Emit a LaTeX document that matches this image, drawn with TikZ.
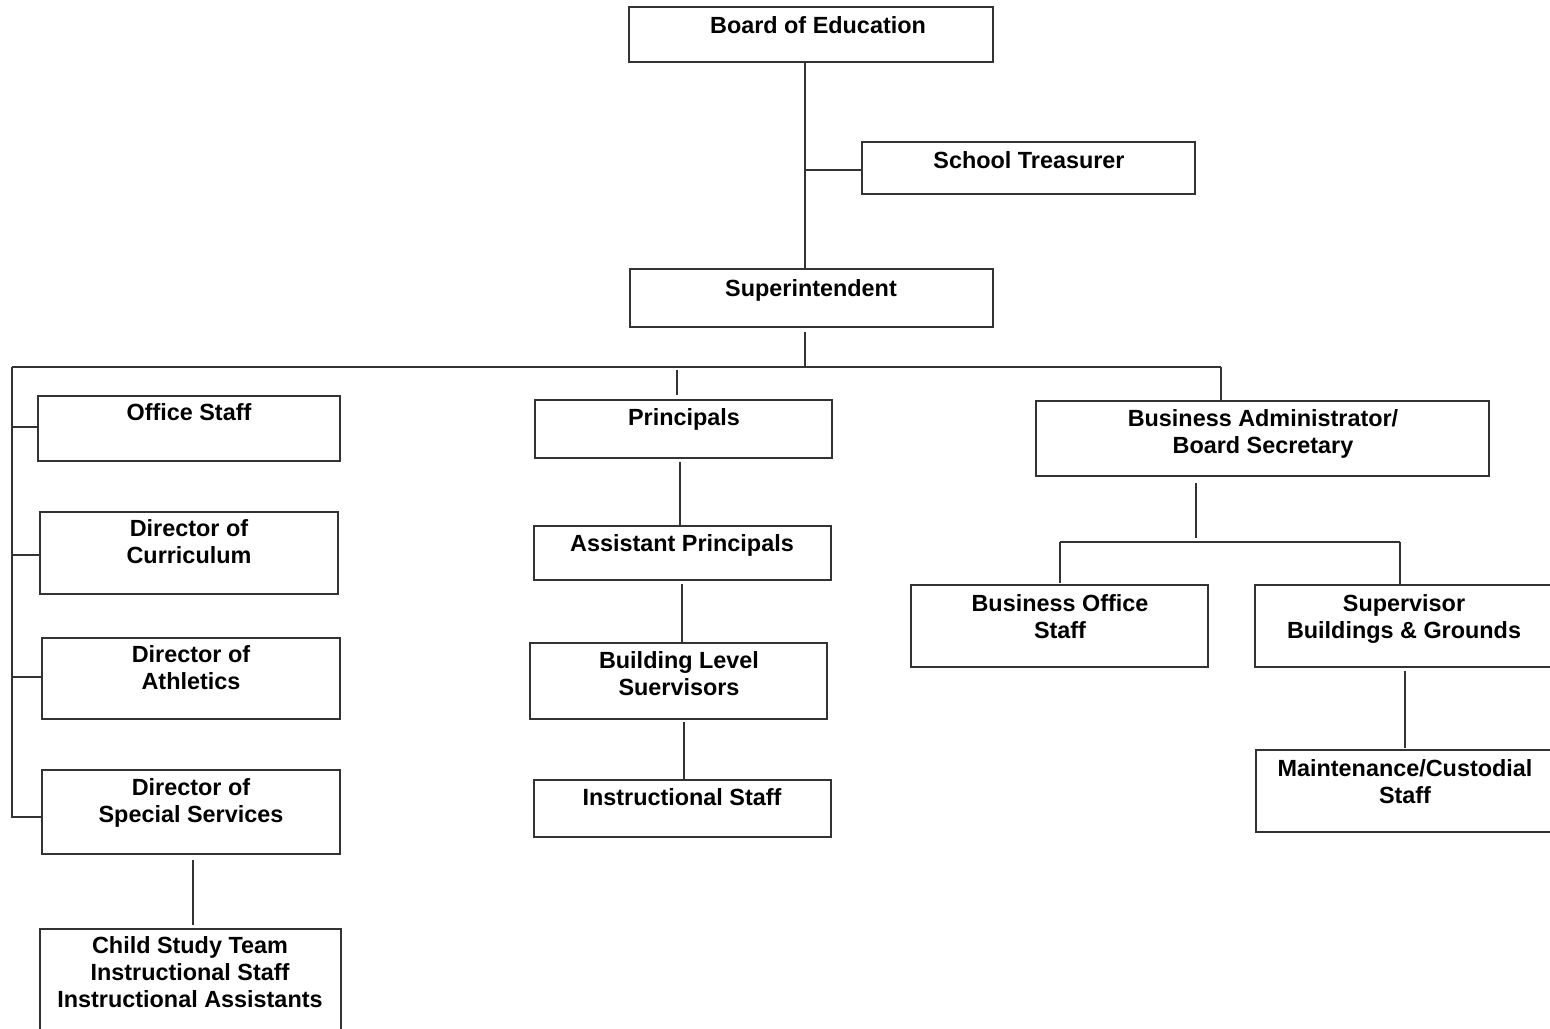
\documentclass[tikz,border=0pt]{standalone}
\usepackage{fontspec}
\setmainfont{Liberation Sans}
\begin{document}
\begin{tikzpicture}[x=1pt,y=-1pt,
  orgbox/.style={draw=black!80,line width=1.3pt,inner sep=0pt,outer sep=0pt,anchor=north west},
  lbl/.style={font=\bfseries\fontsize{23.4}{27}\selectfont,align=center,inner sep=0pt,anchor=north},
  conn/.style={draw=black!80,line width=1.3pt}]
\useasboundingbox (0,0) rectangle (1550,1028);
\clip (0,0) rectangle (1550,1028);
% boxes: #1 name, (x1,y1), width, height
\newcommand{\obox}[5]{\node[orgbox,minimum width=#4pt,minimum height=#5pt] (#1) at (#2,#3) {};}
\newcommand{\otext}[4]{\node[lbl] (#1-t) at (#2,#3-8.5) {#4};}
\obox{board}{629}{7}{364}{55}
\otext{board}{818}{25}{Board of Education}
\obox{treas}{862}{142}{333}{52}
\otext{treas}{1029}{160}{School Treasurer}
\obox{super}{630}{269}{363}{58}
\otext{super}{811}{288}{Superintendent}
\obox{office}{38}{396}{302}{65}
\otext{office}{189}{412}{Office Staff}
\obox{curr}{40}{512}{298}{82}
\otext{curr}{189}{528}{Director of\\Curriculum}
\obox{ath}{42}{638}{298}{81}
\otext{ath}{191}{654}{Director of\\Athletics}
\obox{spec}{42}{770}{298}{84}
\otext{spec}{191}{787}{Director of\\Special Services}
\obox{child}{40}{929}{301}{140}
\otext{child}{190}{945}{Child Study Team\\Instructional Staff\\Instructional Assistants}
\obox{princ}{535}{400}{297}{58}
\otext{princ}{684}{417}{Principals}
\obox{asst}{534}{526}{297}{54}
\otext{asst}{682}{543}{Assistant Principals}
\obox{bldg}{530}{643}{297}{76}
\otext{bldg}{679}{660}{Building Level\\Suervisors}
\obox{instr}{534}{780}{297}{57}
\otext{instr}{682}{797}{Instructional Staff}
\obox{bizadm}{1036}{401}{453}{75}
\otext{bizadm}{1263}{418}{Business Administrator/\\Board Secretary}
\obox{bizoff}{911}{585}{297}{82}
\otext{bizoff}{1060}{603}{Business Office\\Staff}
\obox{supv}{1255}{585}{320}{82}
\otext{supv}{1404}{603}{Supervisor\\Buildings \& Grounds}
\obox{maint}{1256}{750}{320}{82}
\otext{maint}{1405}{768}{Maintenance/Custodial\\Staff}
% junction coordinates
\coordinate (trunk) at (805,170);
\coordinate (bar) at (805,367);
\coordinate (leftbar) at (12,367);
\coordinate (leftend) at (12,818);
\coordinate (pline) at (677,367);
\coordinate (bline) at (1221,367);
\coordinate (bizj) at (1196,542);
% connectors
\draw[conn] (board.south -| trunk) -- (super.north -| trunk);
\draw[conn] (trunk) -- (treas.west |- trunk);
\draw[conn] ([yshift=-5pt]super.south -| bar) -- (bar);
\draw[conn] (leftbar) -- (bline);
\draw[conn] (leftbar) -- (leftend);
\draw[conn] (12,427) -- (office.west |- 0,427);
\draw[conn] (12,555) -- (curr.west |- 0,555);
\draw[conn] (12,677) -- (ath.west |- 0,677);
\draw[conn] (12,817) -- (spec.west |- 0,817);
\draw[conn] ([yshift=-3pt]pline) -- ([yshift=5pt]princ.north -| pline);
\draw[conn] (bline) -- (bizadm.north -| bline);
\draw[conn] ([yshift=-4pt]princ.south -| 680,0) -- (asst.north -| 680,0);
\draw[conn] ([yshift=-4pt]asst.south -| 682,0) -- (bldg.north -| 682,0);
\draw[conn] ([yshift=-3pt]bldg.south -| 684,0) -- (instr.north -| 684,0);
\draw[conn] ([yshift=-6pt]spec.south -| 193,0) -- ([yshift=4pt]child.north -| 193,0);
\draw[conn] ([yshift=-7pt]bizadm.south -| bizj) -- ([yshift=4pt]bizj);
\draw[conn] (1060,542) -- (1400,542);
\draw[conn] (1060,542) -- ([yshift=2pt]bizoff.north -| 1060,0);
\draw[conn] (1400,542) -- (supv.north -| 1400,0);
\draw[conn] ([yshift=-4pt]supv.south -| 1405,0) -- ([yshift=2pt]maint.north -| 1405,0);
\end{tikzpicture}
\end{document}
